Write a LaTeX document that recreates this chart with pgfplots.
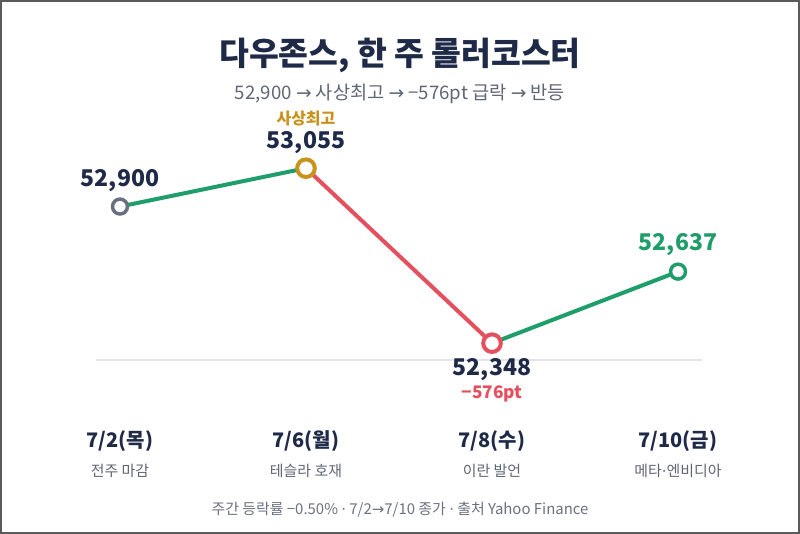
\documentclass[border=0pt]{standalone}
\usepackage{pgfplots}
\pgfplotsset{compat=1.18}
\usepackage{fontspec}
\setmainfont{Noto Sans CJK KR}
\newfontfamily\symfont{DejaVu Sans}
\newcommand\ra{{\symfont →}}
\newcommand\mdot{{\symfont ·}}

\definecolor{navy}{HTML}{1E2A47}
\definecolor{upgreen}{HTML}{1F9D6B}
\definecolor{downred}{HTML}{E5505E}
\definecolor{gold}{HTML}{C8921C}
\definecolor{markgray}{HTML}{6B7080}
\definecolor{subgray}{HTML}{5F6675}
\definecolor{footgray}{HTML}{6B7280}
\definecolor{baseline}{HTML}{E3E5EA}
\definecolor{frame}{HTML}{5A5A5A}

\tikzset{
  datefont/.style={font=\bfseries\fontsize{15}{17}\selectfont, text=navy, yshift=-60.75pt},
  notefont/.style={font=\fontsize{11.2}{13}\selectfont, text=subgray, yshift=-83.25pt},
  valfont/.style={font=\bfseries\fontsize{17.3}{20}\selectfont},
}

\begin{document}
\begin{tikzpicture}
% canvas 800x534 px, 1px = 0.75pt
\fill[white] (0,0) rectangle (600pt,400.5pt);
\draw[frame, line width=1.2pt] (0.6pt,0.6pt) rectangle (599.4pt,399.9pt);

\node[font=\bfseries\fontsize{24.3}{28}\selectfont, text=navy] at (300pt,359pt) {다우존스, 한 주 롤러코스터};
\node[font=\fontsize{14}{16}\selectfont, text=subgray] at (300pt,330pt) {52,900 \ra{} 사상최고 \ra{} −576pt 급락 \ra{} 반등};
\node[font=\fontsize{11.2}{13}\selectfont, text=footgray] at (300pt,18pt) {주간 등락률 −0.50\% \mdot{} 7/2\ra{}7/10 종가 \mdot{} 출처 Yahoo Finance};

\begin{axis}[
at={(71.85pt,130.5pt)}, anchor=south west,
scale only axis,
width=454.8pt, height=152.2pt,
xmin=-0.13, xmax=3.13,
ymin=52280, ymax=53100,
axis y line=none,
axis x line*=bottom,
x axis line style={draw=baseline, line width=0.8pt, -},
xtick=\empty, ytick=\empty,
clip=false
]
% segments
\addplot[upgreen, line width=3pt] coordinates {(0,52900) (1,53055)};
\addplot[downred, line width=3pt] coordinates {(1,53055) (2,52348)};
\addplot[upgreen, line width=3pt] coordinates {(2,52348) (3,52637)};
% markers
\addplot[only marks, mark=*, mark size=5.6pt, mark options={draw=markgray, fill=white, line width=2.6pt}] coordinates {(0,52900)};
\addplot[only marks, mark=*, mark size=6.6pt, mark options={draw=gold, fill=white, line width=3pt}] coordinates {(1,53055)};
\addplot[only marks, mark=*, mark size=6.6pt, mark options={draw=downred, fill=white, line width=3pt}] coordinates {(2,52348)};
\addplot[only marks, mark=*, mark size=5.6pt, mark options={draw=upgreen, fill=white, line width=2.6pt}] coordinates {(3,52637)};

% value labels
\node[valfont, text=navy, yshift=19.5pt] at (axis cs:0,52900) {52,900};
\node[valfont, text=navy, yshift=19.5pt] at (axis cs:1,53055) {53,055};
\node[font=\bfseries\fontsize{12}{14}\selectfont, text=gold, yshift=37.5pt] at (axis cs:1,53055) {사상최고};
\node[valfont, text=navy, yshift=-19.5pt] at (axis cs:2,52348) {52,348};
\node[font=\bfseries\fontsize{13}{14}\selectfont, text=downred, yshift=-38pt] at (axis cs:2,52348) {−576pt};
\node[valfont, text=upgreen, yshift=20pt] at (axis cs:3,52637) {52,637};

% category labels
\node[datefont] at (axis cs:0,52280) {7/2(목)};
\node[notefont] at (axis cs:0,52280) {전주 마감};
\node[datefont] at (axis cs:1,52280) {7/6(월)};
\node[notefont] at (axis cs:1,52280) {테슬라 호재};
\node[datefont] at (axis cs:2,52280) {7/8(수)};
\node[notefont] at (axis cs:2,52280) {이란 발언};
\node[datefont] at (axis cs:3,52280) {7/10(금)};
\node[notefont] at (axis cs:3,52280) {메타\mdot{}엔비디아};
\end{axis}
\end{tikzpicture}
\end{document}
